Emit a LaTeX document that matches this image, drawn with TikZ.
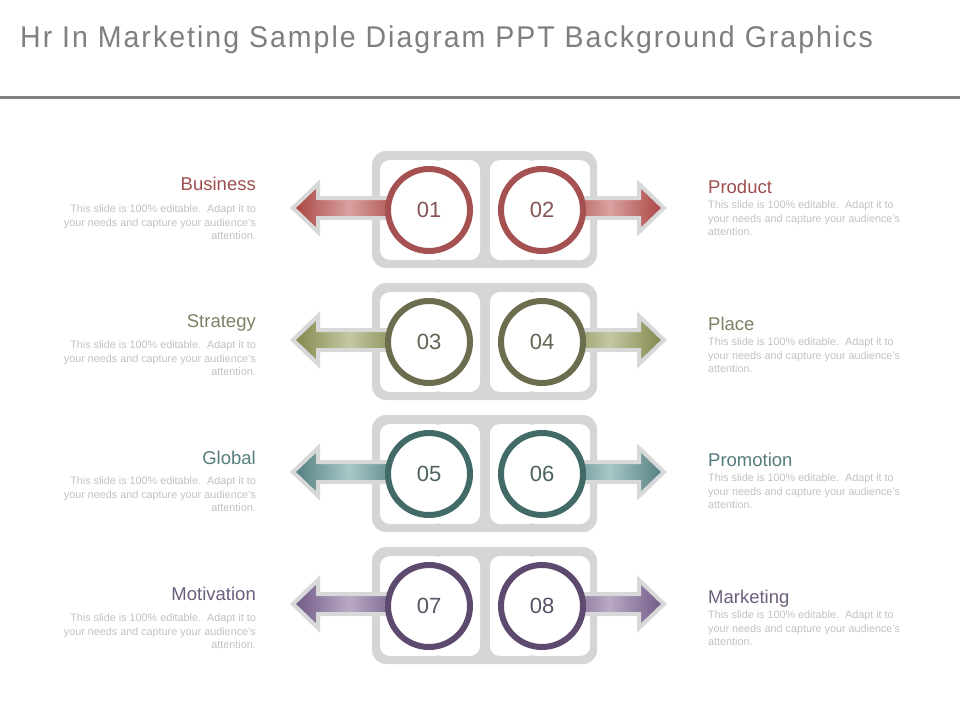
\documentclass[tikz,border=0pt]{standalone}
\usepackage{fontspec}
\setmainfont{Liberation Sans}
\newfontfamily\titlefont[FakeStretch=0.95, LetterSpace=6.7]{Liberation Sans}
\definecolor{titlegray}{HTML}{7F7F7F}
\definecolor{rulegray}{HTML}{808080}
\definecolor{framegray}{HTML}{D5D5D5}
\definecolor{glowgray}{HTML}{D8D8D8}
\definecolor{descgray}{HTML}{C2C2C2}
\definecolor{numgray}{HTML}{5A5A5A}
\definecolor{redD}{HTML}{A8423F}\definecolor{redL}{HTML}{D9A2A0}\definecolor{redC}{HTML}{A65151}\definecolor{redT}{HTML}{9E4F4F}
\definecolor{oliD}{HTML}{80864A}\definecolor{oliL}{HTML}{C4C7A2}\definecolor{oliC}{HTML}{6C6C4E}\definecolor{oliT}{HTML}{808066}
\definecolor{teaD}{HTML}{4F7C7D}\definecolor{teaL}{HTML}{A9C8C8}\definecolor{teaC}{HTML}{426B68}\definecolor{teaT}{HTML}{567C7E}
\definecolor{purD}{HTML}{6F5884}\definecolor{purL}{HTML}{B9A9C5}\definecolor{purC}{HTML}{5E4A6E}\definecolor{purT}{HTML}{6C5E7C}
\tikzset{
  numcircle/.style={circle, line width=6pt, fill=white, minimum size=82pt, inner sep=0pt,
    font=\fontsize{22}{26}\selectfont},
  arrowshape/.style={draw=glowgray, line width=4pt, line join=miter},
  headl/.style={anchor=base east, inner sep=0pt, font=\fontsize{18.5}{22}\selectfont},
  headr/.style={anchor=base west, inner sep=0pt, font=\fontsize{18.5}{22}\selectfont},
  descl/.style={anchor=north east, inner sep=0pt, align=right, text=descgray,
    font=\fontsize{10.8}{13.5}\selectfont},
  descr/.style={anchor=north west, inner sep=0pt, align=left, text=descgray,
    font=\fontsize{10.8}{13.5}\selectfont}
}
% #1 cy, #2 prefix of colours, #3 n1, #4 n2, #5 id
\newcommand\hrrow[5]{%
  \fill[framegray, rounded corners=14pt] (372,#1-59) rectangle (597,#1+58);
  \fill[white, rounded corners=10pt] (380,#1-50) rectangle (444,#1+50);
  \fill[white, rounded corners=10pt] (432,#1-50) rectangle (480,#1+50);
  \fill[white, rounded corners=10pt] (490,#1-50) rectangle (538,#1+50);
  \fill[white, rounded corners=10pt] (526,#1-50) rectangle (590,#1+50);
  \path[arrowshape, left color=#2D, right color=#2D, middle color=#2L]
    (293,#1-2) -- (318,#1-26) -- (318,#1-12) -- (405,#1-12) -- (405,#1+8)
    -- (318,#1+8) -- (318,#1+22) -- cycle;
  \path[arrowshape, left color=#2D, right color=#2D, middle color=#2L]
    (664,#1-2) -- (639,#1-26) -- (639,#1-12) -- (555,#1-12) -- (555,#1+8)
    -- (639,#1+8) -- (639,#1+22) -- cycle;
  \node[numcircle, draw=#2C, text=#2C!55!numgray] (c#5a) at (429,#1) {#3};
  \node[numcircle, draw=#2C, text=#2C!55!numgray] (c#5b) at (542,#1) {#4};
}
\newcommand\desctext{This slide is 100\% editable.\ \ Adapt it to\\your needs and capture your audience's\\attention.}
\begin{document}
\begin{tikzpicture}[x=1pt,y=-1pt]
\path[use as bounding box, fill=white] (0,0) rectangle (960,720);
\node[anchor=base west, inner sep=0pt, text=titlegray, font=\titlefont\fontsize{30}{34}\selectfont]
  (title) at (20,47) {Hr In Marketing Sample Diagram PPT Background Graphics};
\draw[rulegray, line width=3pt] (0,97.5) -- (960,97.5);

\hrrow{210}{red}{01}{02}{1}
\hrrow{342}{oli}{03}{04}{2}
\hrrow{474}{tea}{05}{06}{3}
\hrrow{606}{pur}{07}{08}{4}

% left texts
\node[headl, text=redT] (hb) at (256,190) {Business};
\node[descl] (db) at (256,204.5) {\desctext};
\node[headl, text=oliT] (hs) at (256,327) {Strategy};
\node[descl] (ds) at (256,340.5) {\desctext};
\node[headl, text=teaT] (hg) at (256,464) {Global};
\node[descl] (dg) at (256,476.5) {\desctext};
\node[headl, text=purT] (hm) at (256,600) {Motivation};
\node[descl] (dm) at (256,613.5) {\desctext};
% right texts
\node[headr, text=redT] (hp) at (708,193) {Product};
\node[descr] (dp) at (708,200.5) {\desctext};
\node[headr, text=oliT] (hl) at (708,330) {Place};
\node[descr] (dl) at (708,337.5) {\desctext};
\node[headr, text=teaT] (hr) at (708,466) {Promotion};
\node[descr] (dr) at (708,473.5) {\desctext};
\node[headr, text=purT] (hk) at (708,603) {Marketing};
\node[descr] (dk) at (708,610.5) {\desctext};
\end{tikzpicture}
\end{document}
